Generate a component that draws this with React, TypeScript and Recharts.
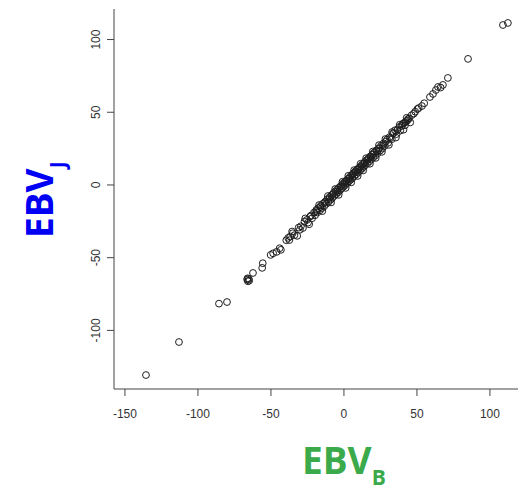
import { ScatterChart, Scatter, XAxis, YAxis } from 'recharts'

// breeding values: x = EBV_B, y = EBV_J
const ebvB = [
  -135.6, -113.0, -85.6, -80.1, -66.3, -65.8, -65.2, -64.9, -66.0, -62.3,
  -56.0, -55.6, -50.2, -48.5, -46.1, -44.0, -43.2, -39.5, -38.2, -37.4,
  -36.8, -35.1, -33.9, -31.0, -30.2, -29.5, -28.1, -27.0, -25.3, -24.6,
  -23.1, -21.8, -20.5, -19.7, -18.9, -18.2, -17.6, -16.4, -15.8, -15.1,
  -14.3, -13.5, -12.8, -12.0, -11.4, -10.6, -9.8, -9.1, -8.5, -7.9,
  -7.2, -6.6, -5.9, -5.2, -4.7, -4.0, -3.3, -2.8, -2.1, -1.5,
  -0.9, -0.3, 0.4, 0.9, 1.5, 2.2, 2.8, 3.4, 4.1, 4.6,
  5.3, 5.9, 6.5, 7.2, 7.8, 8.4, 9.1, 9.7, 10.3, 11.0,
  11.6, 12.3, 12.9, 13.5, 14.2, 14.8, 15.5, 16.1, 16.8, 17.4,
  18.1, 18.7, 19.4, 20.0, 20.7, 21.5, 22.2, 23.0, 23.8, 24.7,
  25.4, 26.3, 27.1, 28.0, 29.5, 30.3, 31.2, 32.8, 33.5, 35.0,
  36.1, 37.9, 38.6, 40.2, 41.1, 41.8, 42.5, 43.3, 44.6, 46.4,
  47.9, 48.8, 50.3, 51.2, 53.4, 55.0, 58.9, 61.0, 63.0, 64.4,
  66.2, 67.8, 71.2, 85.0, 108.9, 112.3,
  -22.5, -19.0, -16.0, -13.0, -10.0, -7.5, -4.5, -1.8, 0.0, 1.8,
  3.8, 6.0, 8.0, 10.0, 12.0, 14.0, 16.4, 18.4, 20.4, 22.6,
  24.2, 26.8, 28.8, 31.8, 34.2, 36.8, 39.4, 42.0, 44.0,
  -35.5, -32.0, -26.5, -23.8, -17.0, -14.8, -11.0, -8.8, -6.0, -3.6,
  -1.0, 1.2, 3.0, 5.0, 7.0, 9.4, 11.4, 13.2, 15.2, 17.8,
  19.8, 21.8, 24.0, 26.0, 28.4, 30.8, 33.0, 35.6, 38.2, 40.8,
  43.0, 45.4,
]

const ebvJ = [
  -130.7, -108.0, -81.6, -80.5, -65.0, -66.2, -64.6, -65.8, -64.2, -60.5,
  -57.0, -53.8, -48.1, -47.0, -46.0, -43.5, -44.6, -38.0, -36.4, -37.9,
  -35.5, -33.2, -34.5, -29.3, -30.8, -28.4, -29.6, -25.1, -24.0, -25.9,
  -21.7, -22.9, -19.0, -20.8, -17.1, -18.9, -16.0, -17.5, -14.2, -15.9,
  -12.8, -14.6, -11.4, -12.9, -9.8, -11.7, -8.3, -10.2, -7.0, -8.8,
  -5.6, -7.5, -4.4, -6.3, -3.1, -5.0, -1.8, -3.9, -0.6, -2.4,
  0.8, -1.2, 1.9, -0.1, 3.0, 1.1, 4.3, 2.5, 5.6, 3.6,
  6.9, 4.8, 8.0, 6.1, 9.4, 7.3, 10.6, 8.5, 11.9, 9.8,
  13.1, 11.2, 14.5, 12.4, 15.8, 13.7, 17.0, 14.9, 18.3, 16.2,
  19.7, 17.5, 21.0, 18.8, 22.3, 20.2, 23.8, 21.7, 25.2, 23.6,
  27.0, 25.0, 28.6, 26.9, 31.2, 29.0, 32.9, 31.5, 35.4, 37.6,
  35.0, 39.8, 37.4, 42.0, 42.6, 41.0, 43.9, 44.2, 45.8, 48.0,
  49.1, 50.4, 52.2, 52.9, 54.3, 56.2, 60.5, 62.6, 65.3, 67.4,
  67.0, 68.8, 73.6, 86.7, 110.0, 111.4,
  -21.0, -18.0, -15.2, -12.0, -9.6, -6.4, -4.2, -0.9, 0.5, 2.6,
  4.4, 6.9, 8.6, 10.9, 12.6, 14.8, 17.2, 19.0, 21.1, 23.0,
  25.1, 27.5, 29.9, 32.2, 35.8, 38.2, 40.6, 43.0, 45.2,
  -32.0, -35.0, -23.0, -27.0, -13.8, -18.0, -7.6, -12.0, -2.8, -6.8,
  2.2, -2.0, 6.3, 1.8, 10.2, 6.2, 14.6, 10.0, 18.4, 14.6,
  23.0, 18.6, 27.4, 22.8, 31.6, 27.6, 36.4, 32.6, 41.4, 38.0,
  46.2, 43.0,
]

const xTicks = [-150, -100, -50, 0, 50, 100]
const yTicks = [-100, -50, 0, 50, 100]

const points = ebvB.map((x, i) => ({ x, y: ebvJ[i] }))

const axisColor = '#444'
const tickFont = "'Liberation Sans', Arial, sans-serif"
const titleFont = "'Open Sans', 'Noto Sans', sans-serif"

const Ring = (props: any) => (
  <circle cx={props.cx} cy={props.cy} r={3.4} fill="none" stroke="#1e1e1e" strokeWidth={1} />
)

const YTick = ({ x, y, payload }: any) => (
  <text
    x={x}
    y={y}
    transform={`rotate(-90 ${x} ${y})`}
    textAnchor="middle"
    fontSize={12}
    fill="#333"
    fontFamily={tickFont}
  >
    {payload.value}
  </text>
)

const XTitle = () => (
  <text x={294} y={466} fill="#3aaa4a" fontFamily={titleFont} fontWeight={700} fontSize={37}>
    EBV<tspan fontSize={21} dy={11}>B</tspan>
  </text>
)

const YTitle = () => (
  <text transform="translate(45 230) rotate(-90)" fill="#0000f5" fontFamily={titleFont} fontWeight={700} fontSize={37}>
    EBV<tspan fontSize={21} dy={12}>J</tspan>
  </text>
)

export default function App() {
  return (
    <div style={{ width: 518, height: 483, overflow: 'hidden' }}>
      <ScatterChart width={518} height={483} margin={{ top: 1, right: 0, bottom: 0, left: 0 }}>
        <XAxis
          dataKey="x"
          type="number"
          domain={[-157.5, 124.7]}
          allowDataOverflow
          ticks={xTicks}
          height={102}
          tickSize={7}
          tickMargin={13}
          stroke={axisColor}
          tick={{ fontSize: 12, fill: '#333', fontFamily: tickFont }}
          label={{ content: XTitle }}
        />
        <XAxis
          xAxisId="top"
          orientation="top"
          dataKey="x"
          type="number"
          domain={[-157.5, 124.7]}
          height={0}
          tick={false}
          tickLine={false}
          stroke={axisColor}
        />
        <YAxis
          dataKey="y"
          type="number"
          domain={[-140.3, 121]}
          allowDataOverflow
          ticks={yTicks}
          width={106}
          tickSize={7}
          tickMargin={7}
          stroke={axisColor}
          tick={YTick}
          label={{ content: YTitle }}
        />
        <Scatter data={points} shape={Ring} isAnimationActive={false} />
      </ScatterChart>
    </div>
  )
}
